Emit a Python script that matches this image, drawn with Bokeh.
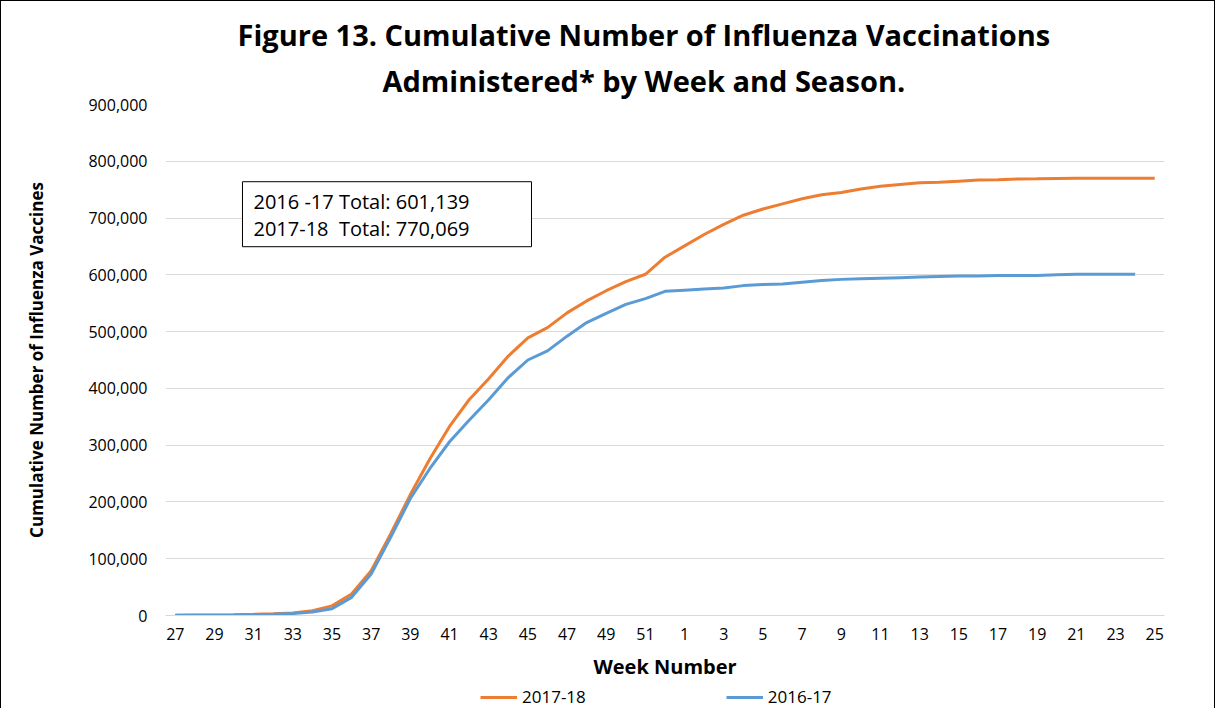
from bokeh.plotting import figure
from bokeh.layouts import column
from bokeh.models import (Range1d, FixedTicker, NumeralTickFormatter, Label,
                          Legend, LegendItem, Title)
from bokeh.embed import file_html
from bokeh.resources import INLINE

# ---- data ----
weeks = [str(w) for w in list(range(27, 53)) + list(range(1, 26))]

season_2017_18 = [
    500, 700, 900, 1200, 2000, 3000, 4500, 8500, 17000, 38000,
    79000, 144000, 213000, 276000, 333000, 380000, 417000, 457000, 489000, 507000,
    533000, 554000, 572000, 588000, 601000, 631000,
    651000, 671000, 689000, 705000, 716000, 725000, 734000, 741000, 745000, 751000,
    756000, 759000, 762000, 763000, 765000, 767000, 767500, 769000, 769200, 769800,
    770000, 770000, 770069, 770069, 770069,
]

season_2016_17 = [
    300, 400, 500, 700, 1000, 2000, 3500, 6000, 12000, 32000,
    73000, 138000, 206000, 259000, 306000, 344000, 380000, 419000, 450000, 466000,
    492000, 516000, 532000, 548000, 558000, 571000,
    573000, 575000, 577000, 581000, 583000, 584000, 587000, 590000, 592000, 593000,
    594000, 595000, 596000, 597000, 598000, 598000, 599000, 599000, 599000, 600000,
    601000, 601000, 601100, 601139,
]

y_ticks = [0, 100000, 200000, 300000, 400000, 500000, 600000, 700000, 800000, 900000]

title_line1 = "Figure 13. Cumulative Number of Influenza Vaccinations"
title_line2 = "Administered* by Week and Season."
totals_text = "2016 -17 Total: 601,139\n2017-18 \u00a0Total: 770,069"
series_names = ["2017-18", "2016-17"]

ORANGE = "#ED7D31"
BLUE = "#5B9BD5"
GRID = "#d9d9d9"
FONT = "Open Sans"

idx = list(range(len(weeks)))

p = figure(width=1215, height=685, output_backend="svg", toolbar_location=None,
           x_range=Range1d(-0.5, len(weeks) - 0.5), y_range=Range1d(0, 900000),
           min_border_left=164, min_border_right=52, min_border_top=103,
           min_border_bottom=71)

p.styles = {"border-left": "1px solid black", "border-top": "1px solid black",
            "border-right": "1px solid black"}
p.outline_line_color = None
p.background_fill_color = "white"
p.border_fill_color = "white"

# title (two lines): p.title is the outermost line
p.title.text = title_line1
p.title.align = "left"
p.title.offset = 72
p.title.text_font = FONT
p.title.text_font_style = "bold"
p.title.text_font_size = "29px"
p.title.standoff = 0
p.title.text_color = "black"
p.add_layout(Title(text=title_line2, align="left", offset=217, text_font=FONT,
                   text_font_style="bold", text_font_size="29px",
                   standoff=10, text_color="black"), "above")

# lines
r1 = p.line(idx[:len(season_2017_18)], season_2017_18, line_color=ORANGE, line_width=3)
r2 = p.line(idx[:len(season_2016_17)], season_2016_17, line_color=BLUE, line_width=3)

# axes
xa = p.xaxis[0]
xa.ticker = FixedTicker(ticks=idx[::2])
xa.major_label_overrides = {i: weeks[i] for i in idx[::2]}
xa.axis_line_color = GRID
xa.major_tick_line_color = None
xa.minor_tick_line_color = None
xa.major_tick_out = 0
xa.major_tick_in = 0
xa.major_label_standoff = 12
xa.major_label_text_font = FONT
xa.major_label_text_font_size = "16px"
xa.major_label_text_color = "black"
xa.axis_label = "Week Number"
xa.axis_label_text_font = FONT
xa.axis_label_text_font_style = "bold"
xa.axis_label_text_font_size = "20px"
xa.axis_label_text_color = "black"
xa.axis_label_standoff = 10

ya = p.yaxis[0]
ya.ticker = FixedTicker(ticks=y_ticks)
ya.formatter = NumeralTickFormatter(format="0,0")
ya.axis_line_color = None
ya.major_tick_line_color = None
ya.minor_tick_line_color = None
ya.major_tick_out = 0
ya.major_tick_in = 0
ya.major_label_standoff = 18
ya.major_label_text_font = FONT
ya.major_label_text_font_size = "16px"
ya.major_label_text_color = "black"
ya.axis_label = "Cumulative Number of Influenza Vaccines"
ya.axis_label_text_font = FONT
ya.axis_label_text_font_style = "bold"
ya.axis_label_text_font_size = "17px"
ya.axis_label_text_color = "black"
ya.axis_label_standoff = 37

p.xgrid.grid_line_color = None
p.ygrid.grid_line_color = GRID
p.ygrid.grid_line_width = 1

# totals box
box = Label(x=3.43, y=764000, text=totals_text, anchor="top_left",
            text_font=FONT, text_font_size="20px", text_line_height=1.0,
            text_color="black",
            border_line_color="black", border_line_width=1,
            background_fill_color="white",
            padding=dict(left=11, right=62, top=6, bottom=5))
p.add_layout(box)

# legend strip below the chart (its frame is aligned with the chart frame)
lg = figure(width=1215, height=23, output_backend="svg", toolbar_location=None,
            x_range=Range1d(0, 1), y_range=Range1d(0, 1),
            x_axis_location=None, y_axis_location=None, min_border=0)
lg.styles = {"border-left": "1px solid black", "border-right": "1px solid black"}
lg.outline_line_color = None
lg.xgrid.visible = False
lg.ygrid.visible = False
nan = float("nan")
k1 = lg.line(x=[nan], y=[nan], line_color=ORANGE, line_width=3)
k2 = lg.line(x=[nan], y=[nan], line_color=BLUE, line_width=3)
legend = Legend(items=[LegendItem(label=series_names[0], renderers=[k1]),
                       LegendItem(label=series_names[1], renderers=[k2])],
                orientation="horizontal", location=(315, 0),
                glyph_width=37, glyph_height=20, label_height=20,
                label_standoff=5, spacing=140, padding=0, margin=0,
                border_line_color=None, background_fill_alpha=0,
                label_text_font=FONT, label_text_font_size="17px",
                label_text_color="black")
lg.add_layout(legend, "center")

open("out.html", "w").write(file_html(column(p, lg, spacing=0), INLINE))
